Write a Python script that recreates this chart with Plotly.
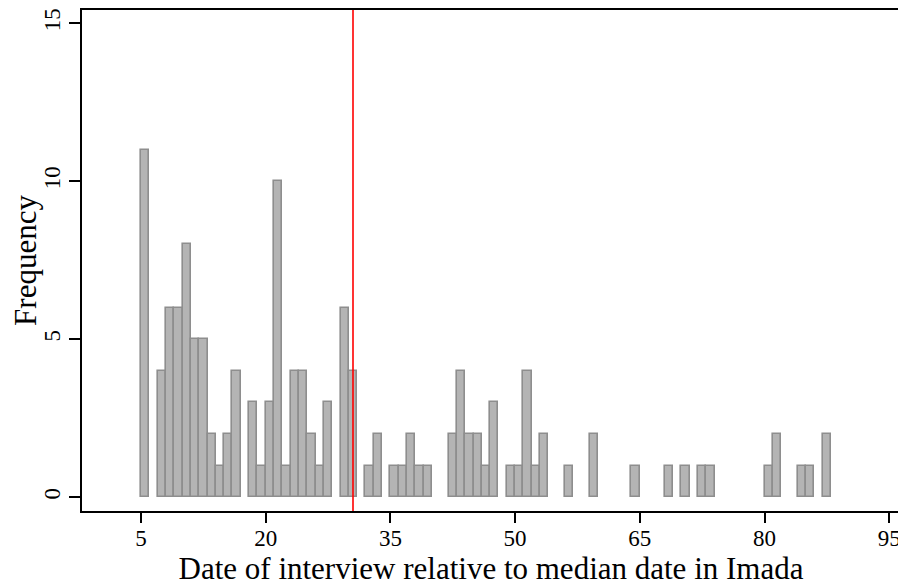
import plotly.graph_objects as go

# Bin start (day) and frequency
days = [5, 7, 8, 9, 10, 11, 12, 13, 14, 15, 16,
        18, 19, 20, 21, 22, 23, 24, 25, 26, 27,
        29, 30, 32, 33, 35, 36, 37, 38, 39,
        42, 43, 44, 45, 46, 47, 49, 50, 51, 52, 53,
        56, 59, 64, 68, 70, 72, 73, 80, 81, 84, 85, 87]
freq = [11, 4, 6, 6, 8, 5, 5, 2, 1, 2, 4,
        3, 1, 3, 10, 1, 4, 4, 2, 1, 3,
        6, 4, 1, 2, 1, 1, 2, 1, 1,
        2, 4, 2, 2, 1, 3, 1, 1, 4, 1, 2,
        1, 2, 1, 1, 1, 1, 1, 1, 2, 1, 1, 2]
median_line = 30.5
x_ticks = [5, 20, 35, 50, 65, 80, 95]
y_ticks = [0, 5, 10, 15]

fig = go.Figure()
fig.add_trace(go.Bar(
    x=days, y=freq, width=1, offset=0,
    marker=dict(color="#b4b4b4", line=dict(color="#8e8e8e", width=1.6)),
    showlegend=False,
))
fig.add_shape(type="line", xref="x", yref="paper", x0=median_line, x1=median_line,
              y0=0, y1=1, line=dict(color="#ff0000", width=1.6), layer="above")

font = "Liberation Serif, Times New Roman, serif"
fig.update_layout(
    width=906, height=586,
    margin=dict(l=74, r=14, t=2, b=83),
    paper_bgcolor="white", plot_bgcolor="white",
    font=dict(family=font, color="black"),
    bargap=0,
    xaxis=dict(range=[-2.1, 96.3], tickvals=x_ticks, ticks="outside", ticklen=10,
               tickwidth=1.5, tickcolor="black", showgrid=False, zeroline=False,
               showline=True, linecolor="black", linewidth=2, mirror=True,
               automargin=False, ticklabelstandoff=-5,
               tickfont=dict(size=23, family=font),
               title=dict(text="Date of interview relative to median date in Imada",
                          font=dict(size=31, family=font), standoff=0)),
    yaxis=dict(range=[-0.44, 15.42], tickvals=y_ticks, ticks="outside", ticklen=11,
               tickwidth=1.5, tickcolor="black", showgrid=False, zeroline=False,
               showline=True, linecolor="black", linewidth=2, mirror=True,
               automargin=False, tickangle=-90,
               tickfont=dict(size=23, family=font),
               title=dict(text="Frequency", font=dict(size=31, family=font), standoff=6)),
)
fig.write_html("out.html")
